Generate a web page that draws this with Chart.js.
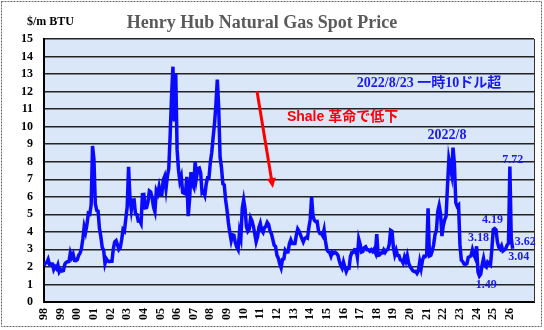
<!DOCTYPE html>
<html>
<head>
<meta charset="utf-8">
<script src="https://cdn.jsdelivr.net/npm/chart.js@4.4.1/dist/chart.umd.min.js"></script>
<style>
  html, body { margin: 0; padding: 0; background: #fff; }
  canvas { display: block; }
</style>
</head>
<body>
<canvas id="henryHub" width="544" height="330"></canvas>
<script>
// Henry Hub monthly spot price, $/mmBTU, Jan 1998 onwards
const startYear = 1998;
const prices = [
  2.09, 2.23, 2.24, 2.43, 2.14, 2.17, 2.17, 1.85, 2.02, 1.91, 2.12, 1.72,   // 1998
  1.85, 1.77, 1.79, 2.15, 2.26, 2.30, 2.31, 2.80, 2.55, 2.73, 2.37, 2.36,   // 1999
  2.42, 2.66, 2.79, 3.04, 3.59, 4.29, 3.99, 4.43, 5.06, 5.02, 5.52, 8.90,   // 2000
  8.17, 5.61, 5.23, 5.19, 4.19, 3.72, 3.11, 2.97, 2.19, 2.46, 2.34, 2.30,   // 2001
  2.32, 2.32, 3.03, 3.43, 3.50, 3.26, 2.99, 3.09, 3.55, 4.13, 4.04, 4.74,   // 2002
  5.43, 7.71, 5.93, 5.26, 5.81, 5.82, 5.03, 4.99, 4.62, 4.63, 4.47, 6.13,   // 2003
  6.14, 5.37, 5.39, 5.71, 6.33, 6.27, 5.93, 5.41, 5.15, 6.35, 6.17, 6.58,   // 2004
  6.15, 6.14, 6.96, 7.16, 6.47, 7.18, 7.63, 9.53, 11.75, 13.42, 10.30, 13.05, // 2005
  8.69, 7.54, 6.89, 7.16, 6.25, 6.21, 6.17, 7.14, 4.90, 5.85, 7.41, 6.73,   // 2006
  6.55, 8.00, 7.11, 7.60, 7.64, 7.35, 6.22, 6.29, 6.08, 6.74, 7.10, 7.11,   // 2007
  7.99, 8.54, 9.41, 10.18, 11.27, 12.69, 11.09, 8.26, 7.67, 6.74, 6.68, 5.82, // 2008
  5.24, 4.52, 3.96, 3.50, 3.83, 3.80, 3.38, 3.14, 2.99, 4.01, 3.66, 5.35,   // 2009
  5.83, 5.32, 4.29, 4.03, 4.14, 4.80, 4.63, 4.32, 3.89, 3.43, 3.71, 4.25,   // 2010
  4.49, 4.09, 3.97, 4.24, 4.31, 4.54, 4.42, 4.06, 3.90, 3.57, 3.24, 3.17,   // 2011
  2.67, 2.50, 2.17, 1.95, 2.43, 2.46, 2.95, 2.84, 2.85, 3.32, 3.54, 3.34,   // 2012
  3.33, 3.33, 3.81, 4.17, 4.04, 3.83, 3.62, 3.43, 3.62, 3.68, 3.64, 4.24,   // 2013
  4.71, 6.00, 4.90, 4.66, 4.58, 4.59, 4.05, 3.91, 3.92, 3.78, 4.12, 3.48,   // 2014
  2.99, 2.87, 2.83, 2.61, 2.85, 2.78, 2.84, 2.77, 2.66, 2.34, 2.09, 1.93,   // 2015
  2.28, 1.99, 1.73, 1.92, 1.92, 2.59, 2.82, 2.82, 2.99, 2.98, 2.55, 3.59,   // 2016
  3.30, 2.85, 2.88, 3.10, 3.15, 2.98, 2.98, 2.90, 2.98, 2.88, 3.01, 2.82,   // 2017
  3.87, 2.67, 2.69, 2.80, 2.80, 2.97, 2.83, 2.96, 3.00, 3.28, 4.09, 4.04,   // 2018
  3.11, 2.69, 2.95, 2.65, 2.64, 2.40, 2.37, 2.22, 2.56, 2.33, 2.65, 2.22,   // 2019
  2.02, 1.91, 1.79, 1.74, 1.75, 1.63, 1.77, 2.30, 1.92, 2.39, 2.61, 2.59,   // 2020
  2.71, 5.35, 2.62, 2.66, 2.91, 3.26, 3.84, 4.07, 5.16, 5.51, 5.05, 3.76,   // 2021
  4.38, 4.69, 4.90, 6.60, 8.14, 7.70, 7.28, 8.81, 7.88, 5.66, 5.45, 5.53,   // 2022
  3.27, 2.38, 2.31, 2.16, 2.15, 2.18, 2.55, 2.58, 2.64, 2.98, 2.71, 2.52,   // 2023
  3.18, 1.72, 1.49, 1.60, 2.12, 2.48, 2.06, 1.99, 2.28, 2.20, 2.12, 3.01,   // 2024
  4.13, 4.19, 4.12, 3.42, 3.12, 3.02, 3.20, 2.91, 2.97, 3.04, 3.25, 3.35,   // 2025
  7.72, 3.62, 3.04                                                          // 2026
];

// year tick labels along the bottom
const yearTicks = [];
for (let y = startYear; y <= 2026; y++) yearTicks.push(y);

// points that carry a value label: [year, month, dx, dy]
const valueLabels = [
  [2024, 1, 2, -5],
  [2024, 3, 7, 12],
  [2025, 2, -2, -6],
  [2026, 1, 3, -4],
  [2026, 2, 14, 6],
  [2026, 3, 6, 11]
];

const blue = '#1a1aee';
const serifBold = '"Liberation Serif", "Times New Roman", "Noto Sans CJK JP", serif';

function monthIndex(year, month) {
  return (year - startYear) * 12 + (month - 1);
}

const points = prices.map((v, i) => ({ x: startYear + i / 12, y: v }));

const decorations = {
  id: 'decorations',
  beforeDraw(chart) {
    const { ctx, chartArea: a } = chart;
    ctx.save();
    ctx.fillStyle = '#fff';
    ctx.fillRect(0, 0, chart.width, chart.height);
    ctx.fillStyle = '#dae7f8';
    ctx.fillRect(a.left, a.top, a.right - a.left, a.bottom - a.top);
    ctx.restore();
  },
  afterDraw(chart) {
    const { ctx, chartArea: a, scales: { x, y } } = chart;
    ctx.save();

    // plot frame, right side
    ctx.strokeStyle = '#333';
    ctx.lineWidth = 1;
    ctx.beginPath();
    ctx.moveTo(a.right + 0.5, a.top);
    ctx.lineTo(a.right + 0.5, a.bottom);
    ctx.stroke();

    // outer dotted frame
    ctx.setLineDash([2, 1]);
    ctx.strokeStyle = '#666';
    ctx.strokeRect(1.5, 1.5, 540, 325);
    ctx.setLineDash([]);

    // title and unit
    ctx.textBaseline = 'alphabetic';
    ctx.textAlign = 'center';
    ctx.fillStyle = '#5a5a5a';
    ctx.font = 'bold 18px ' + serifBold;
    ctx.fillText('Henry Hub Natural Gas Spot Price', 262, 28);
    ctx.textAlign = 'left';
    ctx.fillStyle = '#000';
    ctx.font = 'bold 12px ' + serifBold;
    ctx.fillText('$/m BTU', 27, 25);

    // notes
    ctx.fillStyle = blue;
    ctx.font = 'bold 14px ' + serifBold;
    ctx.textAlign = 'center';
    ctx.fillText('2022/8/23 一時10ドル超', x.getPixelForValue(2021.14), y.getPixelForValue(12.24));

    const peak = monthIndex(2022, 8);
    ctx.fillText('2022/8', x.getPixelForValue(points[peak].x) - 6, y.getPixelForValue(points[peak].y) - 9);

    ctx.fillStyle = '#ff0000';
    ctx.textAlign = 'left';
    ctx.font = 'bold 14px "Liberation Sans", Arial, "Noto Sans CJK JP", sans-serif';
    ctx.fillText('Shale 革命で低下', x.getPixelForValue(2012.6), y.getPixelForValue(10.33));

    // red arrow
    const x0 = x.getPixelForValue(2010.8), y0 = y.getPixelForValue(12.04);
    const x1 = x.getPixelForValue(2011.76), y1 = y.getPixelForValue(6.5);
    const ang = Math.atan2(y1 - y0, x1 - x0);
    ctx.strokeStyle = '#ff0000';
    ctx.lineWidth = 3;
    ctx.beginPath();
    ctx.moveTo(x0, y0);
    ctx.lineTo(x1 - 8 * Math.cos(ang), y1 - 8 * Math.sin(ang));
    ctx.stroke();
    ctx.beginPath();
    ctx.moveTo(x1, y1);
    ctx.lineTo(x1 - 10 * Math.cos(ang) + 4.5 * Math.sin(ang), y1 - 10 * Math.sin(ang) - 4.5 * Math.cos(ang));
    ctx.lineTo(x1 - 10 * Math.cos(ang) - 4.5 * Math.sin(ang), y1 - 10 * Math.sin(ang) + 4.5 * Math.cos(ang));
    ctx.closePath();
    ctx.fillStyle = '#ff0000';
    ctx.fill();

    // value labels
    ctx.fillStyle = blue;
    ctx.font = 'bold 12px ' + serifBold;
    ctx.textAlign = 'center';
    valueLabels.forEach(([yr, mo, dx, dy]) => {
      const p = points[monthIndex(yr, mo)];
      ctx.fillText(p.y.toFixed(2), x.getPixelForValue(p.x) + dx, y.getPixelForValue(p.y) + dy);
    });

    ctx.restore();
  }
};

new Chart(document.getElementById('henryHub'), {
  type: 'line',
  data: {
    datasets: [{
      data: points,
      borderColor: '#0a0aff',
      borderWidth: 3.5,
      pointRadius: 0,
      tension: 0,
      fill: false
    }]
  },
  options: {
    responsive: false,
    animation: false,
    layout: { padding: { top: 39, right: 10, left: 0, bottom: 0 } },
    plugins: {
      legend: { display: false },
      tooltip: { enabled: false }
    },
    scales: {
      x: {
        type: 'linear',
        min: startYear,
        max: 2027.45,
        grid: { display: false, drawTicks: false },
        border: { color: '#000', width: 2 },
        ticks: {
          autoSkip: false,
          minRotation: 90,
          maxRotation: 90,
          padding: 6,
          color: '#000',
          font: { family: serifBold, size: 12, weight: 'bold' },
          callback: v => String(v).slice(2)
        },
        afterBuildTicks: s => { s.ticks = yearTicks.map(v => ({ value: v })); },
        afterFit: s => { s.height = 28; }
      },
      y: {
        min: 0,
        max: 15,
        grid: { color: '#222', lineWidth: 1.5, drawTicks: false },
        border: { color: '#000', width: 2 },
        ticks: {
          stepSize: 1,
          padding: 11,
          color: '#000',
          font: { family: serifBold, size: 12, weight: 'bold' }
        },
        afterFit: s => { s.width = 44; }
      }
    }
  },
  plugins: [decorations]
});
</script>
</body>
</html>
